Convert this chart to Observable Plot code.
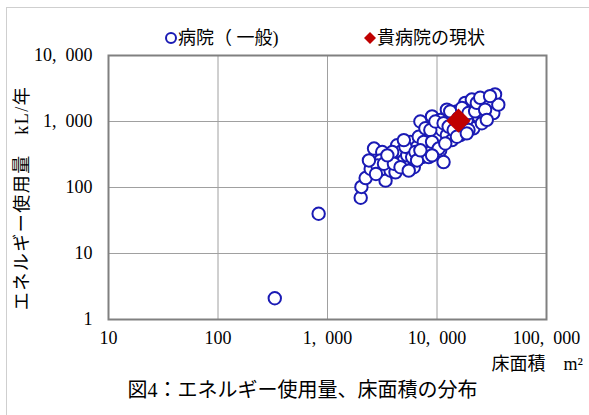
<!DOCTYPE html>
<html>
<head>
<meta charset="utf-8">
<script src="https://cdn.jsdelivr.net/npm/d3@7"></script>
<script src="https://cdn.jsdelivr.net/npm/@observablehq/plot@0.6"></script>
<style>
  html, body { margin: 0; padding: 0; background: #fff; }
  #wrap { position: relative; width: 589px; height: 415px; overflow: hidden; background: #fff;
          font-family: "Liberation Serif", "Noto Sans CJK JP", serif; color: #000; }
  #border { position: absolute; left: 6px; top: 7px; width: 600px; height: 430px;
            border-left: 1px solid #cfcfcf; border-top: 1px solid #cfcfcf; }
  #chart { position: absolute; left: 0; top: 0; }
  .lbl { position: absolute; white-space: nowrap; line-height: 1; }
</style>
</head>
<body>
<div id="wrap">
  <div id="border"></div>
  <div id="chart"></div>
  <div class="lbl" id="legend1" style="left:164px; top:29px; font-size:18px;">
    <svg width="14" height="14" style="vertical-align:-1px"><circle cx="7" cy="7" r="5" fill="#fff" stroke="#1a1ab4" stroke-width="2"/></svg><span id="leg1"></span>
  </div>
  <div class="lbl" id="legend2" style="left:363px; top:29px; font-size:18px;">
    <svg width="14" height="14" style="vertical-align:-1px"><path d="M7 1 L13 7 L7 13 L1 7 Z" fill="#c00000"/></svg><span id="leg2"></span>
  </div>
  <div class="lbl" id="ytitle" style="left:22px; top:198px; font-size:18px; transform: translate(-50%,-50%) rotate(-90deg); letter-spacing:1.5px;"></div>
  <div class="lbl" id="xtitle" style="right:6px; top:355px; font-size:18px;"></div>
  <div class="lbl" id="caption" style="left:8px; width:589px; text-align:center; top:380px; font-size:20px;"></div>
</div>
<script>
// ---- Data ----
const seriesName = "病院（ 一般)";
const ownName = "貴病院の現状";
const yTitle = "エネルギー使用量　kL/年";
const xTitle = "床面積　m²";
const captionText = "図4：エネルギー使用量、床面積の分布";

const xTicks = [10, 100, 1000, 10000, 100000];
const xTickLabels = ["10", "100", "1,\u2002000", "10,\u2002000", "100,\u2002000"];
const yTicks = [1, 10, 100, 1000, 10000];
const yTickLabels = ["1", "10", "100", "1,\u2002000", "10,\u2002000"];

// floor area (m²) of general hospitals
const hospitalArea = [
  330, 830,
  2010, 2040, 2230, 2480, 2660, 3160, 3050, 3390, 3630, 3770, 4180, 4330, 4640, 4980,
  5340, 5720, 6140, 6580, 7050, 7300, 8110, 8400, 9010, 9330, 10000, 10700, 11480, 11100,
  12300, 13700, 14700, 16300, 15200, 18100, 20100, 21500, 23900, 26500, 29500, 32700, 33900, 36300,
  25700, 18700, 12300, 13700, 10700,
  2850, 2770, 3280, 3900, 4040, 4640, 5150, 5520, 5930, 6350, 6810, 7570, 7830, 8690, 9010,
  9660, 10350, 11480, 11900, 12770, 13200, 14200, 15700, 16900, 17500, 19400, 20800, 22300, 23100,
  24800, 27500, 30500, 28500, 19400, 15200, 18700, 6580, 4980, 3520, 2390, 8400, 7050, 9010
];
// energy use (kL/year) of general hospitals
const hospitalEnergy = [
  2.1, 40,
  70, 102, 139, 191, 389, 345, 257, 127, 243, 180, 170, 437, 345, 257,
  307, 492, 203, 412, 1000, 289, 623, 412, 1194, 838, 555, 366, 243, 744,
  623, 523, 889, 623, 1425, 1914, 1700, 789, 1194, 2150, 1914, 1343, 2570, 1800,
  942, 1060, 1510, 1194, 1060,
  215, 160, 229, 345, 229, 203, 412, 180, 289, 345, 588, 492, 789, 744, 492,
  1000, 389, 942, 464, 838, 1425, 744, 1125, 1603, 838, 1343, 2150, 1425, 1914,
  2286, 1510, 2427, 1060, 744, 588, 661, 257, 523, 307, 257, 289, 366, 307
];
// this hospital
const ownArea = [15700];
const ownEnergy = [1030];

// ---- Build ----
const hospitals = hospitalArea.map((a, i) => ({area: a, energy: hospitalEnergy[i]}));
const own = ownArea.map((a, i) => ({area: a, energy: ownEnergy[i]}));

const chart = Plot.plot({
  width: 589,
  height: 415,
  marginLeft: 108,
  marginRight: 43,
  marginTop: 55,
  marginBottom: 96,
  style: {fontFamily: '"Liberation Serif", "Noto Sans CJK JP", serif', fontSize: "18px", background: "transparent", color: "#000"},
  x: {type: "log", domain: [10, 100000], ticks: xTicks, tickFormat: d => xTickLabels[xTicks.indexOf(d)], tickSize: 0, tickPadding: 12, label: null},
  y: {type: "log", domain: [1, 10000], ticks: yTicks, tickFormat: d => yTickLabels[yTicks.indexOf(d)], tickSize: 0, tickPadding: 16, label: null},
  marks: [
    Plot.ruleX(xTicks, {stroke: "#a0a0a0", strokeWidth: 1}),
    Plot.ruleY(yTicks, {stroke: "#a0a0a0", strokeWidth: 1}),
    Plot.dot(hospitals, {x: "area", y: "energy", r: 6.2, fill: "#fff", stroke: "#1a1ab4", strokeWidth: 2}),
    Plot.dot(own, {x: "area", y: "energy", r: 11, symbol: "diamond2", fill: "#c00000", stroke: "none"}),
    Plot.frame({stroke: "#808080", strokeWidth: 2})
  ]
});
document.getElementById("chart").appendChild(chart);
document.getElementById("leg1").textContent = seriesName;
document.getElementById("leg2").textContent = ownName;
document.getElementById("ytitle").textContent = yTitle;
document.getElementById("xtitle").textContent = xTitle;
document.getElementById("caption").textContent = captionText;
</script>
</body>
</html>
